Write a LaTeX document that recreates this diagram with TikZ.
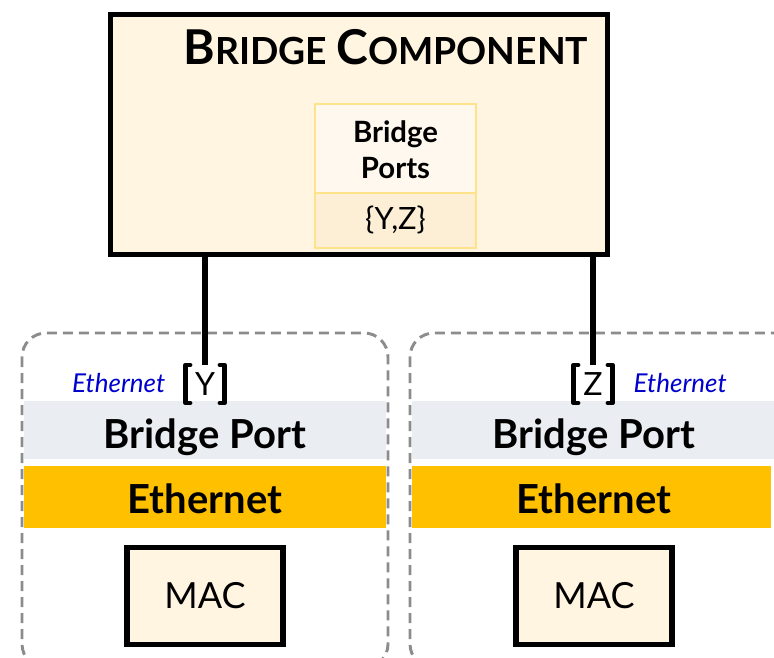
\documentclass[tikz,border=0pt]{standalone}
\usepackage{fontspec}
\setmainfont{Lato}
\definecolor{cream}{HTML}{FFF5E1}
\definecolor{portsback}{HTML}{FFF8EE}
\definecolor{setback}{HTML}{FDEFD5}
\definecolor{portsline}{HTML}{FFE38A}
\definecolor{portband}{HTML}{EAEEF3}
\definecolor{ethband}{HTML}{FFC000}
\definecolor{dashgray}{HTML}{8C8C8C}
\definecolor{ethblue}{HTML}{0000CC}
\begin{document}
\begin{tikzpicture}[x=0.75pt,y=-0.75pt]
\tikzset{
  heavy/.style={line width=4.2pt},
  bracketline/.style={line width=3.6pt, line cap=round, line join=round},
  layerbox/.style={dashgray, line width=2.2pt, dash pattern=on 7.5pt off 4.5pt, rounded corners=18pt},
  macbox/.style={draw, heavy, fill=cream, minimum width=117pt, minimum height=73pt, font=\fontsize{27}{30}\selectfont},
}
\useasboundingbox (0,0) rectangle (774,657);
\clip (0,0) rectangle (774,657);

%ブリッジ
\node[draw, heavy, fill=cream, minimum width=373pt, minimum height=180pt, anchor=north west] (bridge) at (107.5,11.5) {};
\node at (386,47) {\bfseries\fontsize{36}{38}\selectfont B\fontsize{28}{30}\selectfont RIDGE \fontsize{36}{38}\selectfont C\fontsize{28}{30}\selectfont OMPONENT};
\fill[portsback] (315,104) rectangle (476,193);
\fill[setback] (315,193) rectangle (476,248);
\draw[portsline, line width=1.8pt] (315,104) rectangle (476,248) (315,193) -- (476,193);
\node[align=center, font=\bfseries\fontsize{22}{27}\selectfont] (ports) at (395.5,150) {Bridge\\Ports};
\node[font=\fontsize{23}{26}\selectfont] (set) at (395.5,220) {\{Y,Z\}};

%左のポート
\draw[layerbox] (22,333) rectangle (388,668);
\fill[portband] (24,401) rectangle (386,459);
\fill[ethband] (24,466) rectangle (386,528);
\node[font=\bfseries\fontsize{30}{32}\selectfont] (bpY) at (205,437) {Bridge Port};
\node[font=\bfseries\fontsize{30}{32}\selectfont] (ethY) at (205,499) {Ethernet};
\node[macbox] (macY) at (205,596) {MAC};
\node[font=\fontsize{24}{26}\selectfont, inner sep=0pt] (Y) at (205,384) {Y};
\draw[bracketline] (190,365) -- (185.5,365) -- (185.5,403) -- (190,403);
\draw[bracketline] (220,365) -- (224.5,365) -- (224.5,403) -- (220,403);
\node[ethblue, anchor=east, font=\itshape\fontsize{19.5}{22}\selectfont] (labY) at (170,383) {Ethernet};

%右のポート
\draw[layerbox] (410,333) rectangle (800,668);
\fill[portband] (412,401) rectangle (774,459);
\fill[ethband] (412,466) rectangle (771,528);
\node[font=\bfseries\fontsize{30}{32}\selectfont] (bpZ) at (594,437) {Bridge Port};
\node[font=\bfseries\fontsize{30}{32}\selectfont] (ethZ) at (594,499) {Ethernet};
\node[macbox] (macZ) at (594,596) {MAC};
\node[font=\fontsize{24}{26}\selectfont, inner sep=0pt] (Z) at (593,384) {Z};
\draw[bracketline] (578,365) -- (573.5,365) -- (573.5,403) -- (578,403);
\draw[bracketline] (608,365) -- (612.5,365) -- (612.5,403) -- (608,403);
\node[ethblue, anchor=west, font=\itshape\fontsize{19.5}{22}\selectfont] (labZ) at (629,383) {Ethernet};

%接続
\coordinate (topY) at (205,365);
\coordinate (topZ) at (593,365);
\draw[line width=4.5pt] (bridge.south -| topY) -- (topY);
\draw[line width=4.5pt] (bridge.south -| topZ) -- (topZ);
\end{tikzpicture}
\end{document}
